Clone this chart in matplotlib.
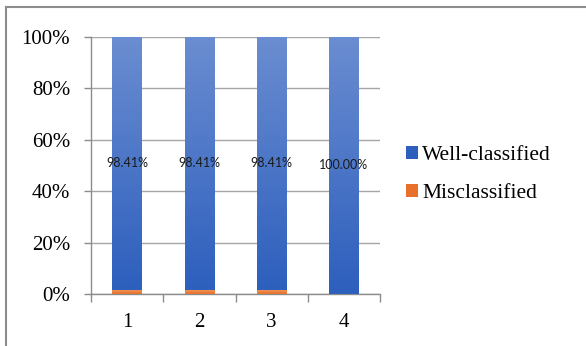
import numpy as np
import matplotlib.pyplot as plt
from matplotlib.patches import Patch
from matplotlib.lines import Line2D
from matplotlib.colors import LinearSegmentedColormap

# class shares per run (percent)
runs = ['1', '2', '3', '4']
well_classified = [98.41, 98.41, 98.41, 100.00]
misclassified = [1.59, 1.59, 1.59, 0.00]

blue_top, blue_bottom = '#6b8dd1', '#2d5fbd'
orange_top, orange_bottom = '#f29a62', '#e8702a'

plt.rcParams['font.family'] = ['Liberation Serif', 'DejaVu Serif']

fig = plt.figure(figsize=(5.86, 3.46), dpi=100)
ax = fig.add_axes([0.1553, 0.1503, 0.4932, 0.7428])

x = np.arange(1, len(runs) + 1)
width = 0.41
bars_mis = ax.bar(x, misclassified, width, color=orange_bottom, zorder=3)
bars_well = ax.bar(x, well_classified, width, bottom=misclassified, color=blue_bottom, zorder=3)


def shade(bars, top, bottom):
    # vertical gradient fill, clipped to each bar
    cmap = LinearSegmentedColormap.from_list('g', [bottom, top])
    grad = np.linspace(0, 1, 256).reshape(-1, 1)
    for b in bars:
        if b.get_height() <= 0:
            continue
        x0, y0 = b.get_x(), b.get_y()
        im = ax.imshow(grad, cmap=cmap, origin='lower', aspect='auto',
                       extent=[x0, x0 + b.get_width(), y0, y0 + b.get_height()],
                       zorder=3.5)
        im.set_clip_path(b)


shade(bars_mis, orange_top, orange_bottom)
shade(bars_well, blue_top, blue_bottom)

ax.bar_label(bars_well, labels=['%.2f%%' % v for v in well_classified],
             label_type='center', fontsize=9, family=['Lato', 'DejaVu Sans'],
             color='#1a1a1a', zorder=5)

ax.set_xlim(0.5, 4.5)
ax.set_ylim(0, 100)
ax.set_yticks(np.arange(0, 101, 20))
ax.set_yticklabels(['%d%%' % v for v in range(0, 101, 20)])
ax.set_xticks(x)
ax.set_xticklabels(runs)
ax.set_xticks(np.arange(0.5, 4.6, 1), minor=True)
ax.tick_params(axis='x', which='major', length=0, pad=14, labelsize=15)
ax.tick_params(axis='x', which='minor', length=6, color='#8c8c8c', width=1)
ax.tick_params(axis='y', length=5, color='#8c8c8c', width=1, pad=10, labelsize=15)
ax.yaxis.grid(True, color='#a6a6a6', linewidth=1)
ax.set_axisbelow(True)
for s in ['top', 'right']:
    ax.spines[s].set_visible(False)
for s in ['left', 'bottom']:
    ax.spines[s].set_color('#8c8c8c')
    ax.spines[s].set_linewidth(1)

handles = [Patch(facecolor=blue_bottom), Patch(facecolor=orange_bottom)]
fig.legend(handles, ['Well-classified', 'Misclassified'], loc='center left',
           bbox_to_anchor=(0.693, 0.496), frameon=False, fontsize=15.5,
           handlelength=0.55, handleheight=0.55, handletextpad=0.2,
           labelspacing=0.88, borderpad=0, borderaxespad=0)

# outer frame
fig.add_artist(Line2D([0.0102, 0.998], [0.98, 0.98], color='#8c8c8c', lw=1.5))
fig.add_artist(Line2D([0.0102, 0.0102], [0.0, 0.98], color='#8c8c8c', lw=1.5))

fig.savefig('out.png', dpi=100)
